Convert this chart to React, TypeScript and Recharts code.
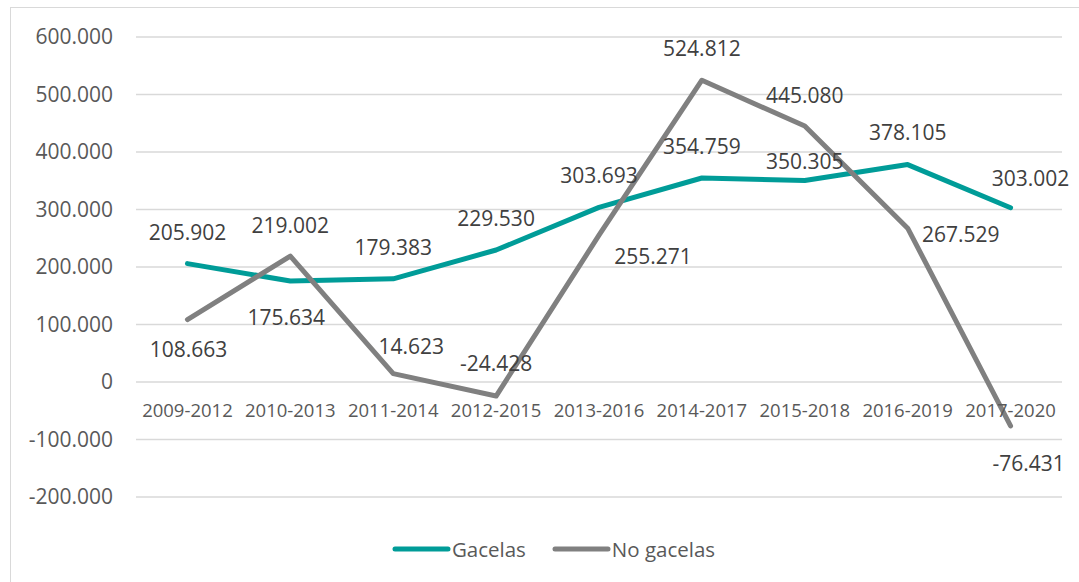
import React from "react";
import {
  LineChart,
  Line,
  XAxis,
  YAxis,
  CartesianGrid,
  Legend,
  LabelList,
} from "recharts";

const periods = [
  "2009-2012",
  "2010-2013",
  "2011-2014",
  "2012-2015",
  "2013-2016",
  "2014-2017",
  "2015-2018",
  "2016-2019",
  "2017-2020",
];
const gacelas = [205902, 175634, 179383, 229530, 303693, 354759, 350305, 378105, 303002];
const noGacelas = [108663, 219002, 14623, -24428, 255271, 524812, 445080, 267529, -76431];
const yTicks = [-200000, -100000, 0, 100000, 200000, 300000, 400000, 500000, 600000];

// label placement relative to the point (dx, dy of text centre)
const gacelasLabelPos = [
  [0, -31], [-4, 36], [0, -31], [0, -32], [0, -32], [0, -32], [0, -19], [0, -32], [20, -29],
];
const noGacelasLabelPos = [
  [1, 30], [0, -31], [18, -27], [0, -33], [54, 21], [0, -32], [0, -31], [53, 6], [18, 37],
];

const data = periods.map((p, i) => ({
  period: p,
  gacelas: gacelas[i],
  noGacelas: noGacelas[i],
}));

const W = 1079;
const H = 582;
const TOP = 37;
const PLOT_H = 460;
const PLOT_W = 926;
const Y_MIN = -200000;
const Y_MAX = 600000;
const ZERO_Y = TOP + (Y_MAX / (Y_MAX - Y_MIN)) * PLOT_H;
const BAND_PAD = PLOT_W / periods.length / 2;

const TEAL = "#009C98";
const GRAY = "#808080";
const FONT = "'Open Sans', sans-serif";

const fmt = (v: number) => {
  const s = Math.abs(Math.round(v)).toString().replace(/\B(?=(\d{3})+(?!\d))/g, ".");
  return (v < 0 ? "-" : "") + s;
};

const makeLabel = (pos: number[][]) => (props: any) => {
  const { x, y, value, index } = props;
  const [dx, dy] = pos[index] || [0, -30];
  return (
    <text
      x={x + dx}
      y={y + dy}
      dy="0.36em"
      textAnchor="middle"
      fontFamily={FONT}
      fontSize={21}
      fill="#404040"
    >
      {fmt(value)}
    </text>
  );
};

const XTick = (props: any) => {
  const { x, payload } = props;
  return (
    <text
      x={x}
      y={ZERO_Y + 28}
      dy="0.36em"
      textAnchor="middle"
      fontFamily={FONT}
      fontSize={18.5}
      fill="#595959"
    >
      {payload.value}
    </text>
  );
};

const LegendContent = (props: any) => {
  const { payload } = props;
  return (
    <div
      style={{
        display: "flex",
        justifyContent: "center",
        alignItems: "center",
        height: 30,
        fontFamily: FONT,
        fontSize: 20.5,
        color: "#595959",
      }}
    >
      {(payload || []).map((item: any, i: number) => (
        <div
          key={item.value}
          style={{ display: "flex", alignItems: "center", marginLeft: i > 0 ? 26 : 0 }}
        >
          <svg width={59} height={10} style={{ marginRight: 1 }}>
            <line
              x1={3}
              y1={5}
              x2={56}
              y2={5}
              stroke={item.color}
              strokeWidth={5}
              strokeLinecap="round"
            />
          </svg>
          <span>{item.value}</span>
        </div>
      ))}
    </div>
  );
};

export default function App() {
  return (
    <div
      style={{
        position: "absolute",
        left: 0,
        top: 0,
        width: W,
        height: H,
        background: "#fff",
        overflow: "hidden",
      }}
    >
      <div
        style={{
          position: "absolute",
          left: 10,
          top: 7,
          width: W,
          height: H,
          border: "1px solid #D9D9D9",
        }}
      />
      <LineChart
        width={W}
        height={H}
        data={data}
        margin={{ top: TOP, right: 17, left: 10, bottom: 25 }}
      >
        <CartesianGrid vertical={false} stroke="#D9D9D9" strokeWidth={1.5} />
        <XAxis
          dataKey="period"
          height={30}
          axisLine={false}
          tickLine={false}
          tick={<XTick />}
          interval={0}
          padding={{ left: BAND_PAD, right: BAND_PAD }}
        />
        <YAxis
          width={126}
          domain={[Y_MIN, Y_MAX]}
          ticks={yTicks}
          axisLine={false}
          tickLine={false}
          tickSize={0}
          tickMargin={23}
          tickFormatter={fmt}
          tick={{ fontFamily: FONT, fontSize: 21, fill: "#595959" }}
        />
        <Legend
          verticalAlign="bottom"
          content={<LegendContent />}
          wrapperStyle={{ top: 534, left: 14, width: W }}
        />
        <Line
          name="Gacelas"
          dataKey="gacelas"
          type="linear"
          stroke={TEAL}
          strokeWidth={5}
          strokeLinejoin="round"
          strokeLinecap="round"
          dot={false}
          activeDot={false}
          isAnimationActive={false}
        >
          <LabelList dataKey="gacelas" content={makeLabel(gacelasLabelPos)} />
        </Line>
        <Line
          name="No gacelas"
          dataKey="noGacelas"
          type="linear"
          stroke={GRAY}
          strokeWidth={5}
          strokeLinejoin="round"
          strokeLinecap="round"
          dot={false}
          activeDot={false}
          isAnimationActive={false}
        >
          <LabelList dataKey="noGacelas" content={makeLabel(noGacelasLabelPos)} />
        </Line>
      </LineChart>
    </div>
  );
}
